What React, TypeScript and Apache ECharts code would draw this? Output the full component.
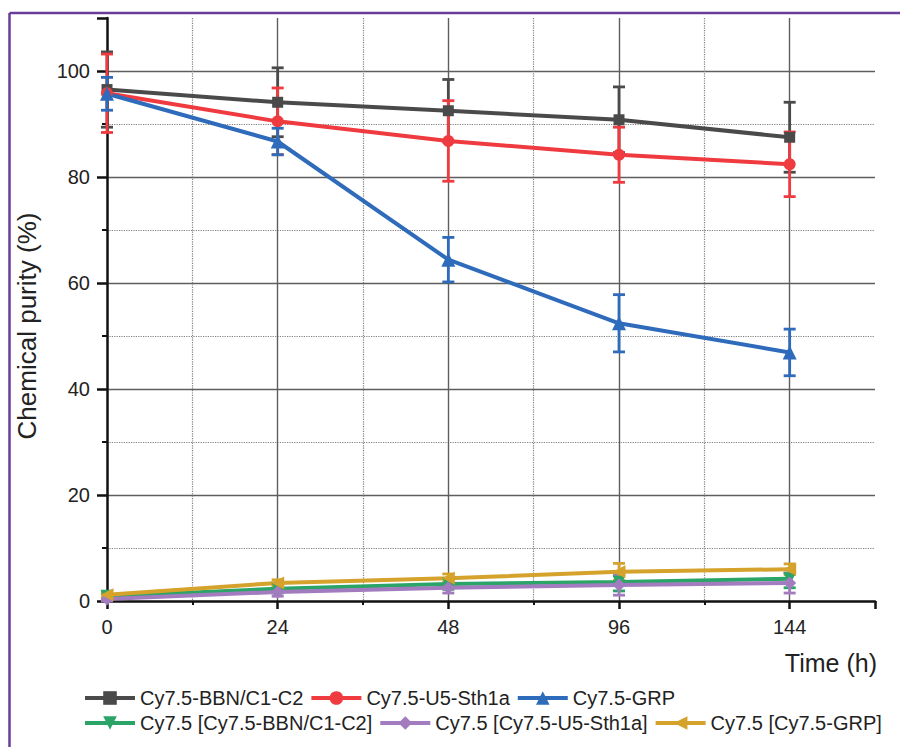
import React, { useEffect, useRef } from "react";
import * as echarts from "echarts";

const timeLabels = ["0", "24", "48", "96", "144"];
const xIndex = [0, 1, 2, 3, 4];

const seriesNames = [
  "Cy7.5-BBN/C1-C2",
  "Cy7.5-U5-Sth1a",
  "Cy7.5-GRP",
  "Cy7.5 [Cy7.5-BBN/C1-C2]",
  "Cy7.5 [Cy7.5-U5-Sth1a]",
  "Cy7.5 [Cy7.5-GRP]",
];

const bbnMean = [96.5, 94.1, 92.5, 90.8, 87.5];
const bbnErr = [7.1, 6.5, 5.9, 6.2, 6.6];
const sthMean = [95.8, 90.5, 86.8, 84.2, 82.4];
const sthErr = [7.4, 6.3, 7.6, 5.2, 6.1];
const grpMean = [95.7, 86.7, 64.4, 52.4, 46.9];
const grpErr = [3.1, 2.5, 4.2, 5.4, 4.4];
const freeBbnMean = [0.9, 2.3, 3.2, 3.6, 4.2];
const freeBbnErr = [0.5, 0.8, 1.0, 1.7, 1.7];
const freeSthMean = [0.4, 1.7, 2.5, 3.0, 3.4];
const freeSthErr = [0.4, 0.8, 1.0, 1.9, 1.9];
const freeGrpMean = [1.2, 3.4, 4.3, 5.5, 6.0];
const freeGrpErr = [0.5, 0.6, 0.8, 1.6, 1.0];

const means = [bbnMean, sthMean, grpMean, freeBbnMean, freeSthMean, freeGrpMean];
const errs = [bbnErr, sthErr, grpErr, freeBbnErr, freeSthErr, freeGrpErr];
const colors = ["#4a4a4a", "#ef3b40", "#2e6bbb", "#2aa567", "#a37cc0", "#d5a22b"];
const symbols = ["rect", "circle", "triangle", "triangle", "diamond", "triangle"];
const symbolRotates = [0, 0, 0, 180, 0, 90];
const symbolSizes = [11, 12, 14, 13, 13, 13];

const FONT = "'Liberation Sans', Arial, Helvetica, sans-serif";

export default function App() {
  const ref = useRef<HTMLDivElement>(null);

  useEffect(() => {
    document.body.style.margin = "0";
    if (!ref.current) return;
    const chart = echarts.init(ref.current, undefined, { renderer: "svg" });

    const series: any[] = [];
    seriesNames.forEach((name, s) => {
      series.push({
        name,
        type: "line",
        data: xIndex.map((x, i) => [x, means[s][i]]),
        symbol: symbols[s],
        symbolRotate: symbolRotates[s],
        symbolSize: symbolSizes[s],
        showAllSymbol: true,
        lineStyle: { color: colors[s], width: 4 },
        itemStyle: { color: colors[s] },
        z: 3,
      });
      series.push({
        name: "err-" + name,
        type: "custom",
        data: xIndex.map((x, i) => [x, means[s][i] - errs[s][i], means[s][i] + errs[s][i]]),
        encode: { x: 0, y: [1, 2] },
        z: 3,
        renderItem: (params: any, api: any) => {
          const x = api.value(0);
          const lo = api.value(1);
          const hi = api.value(2);
          const p1 = api.coord([x, hi]);
          const p2 = api.coord([x, lo]);
          const w = 6;
          const style = { stroke: colors[s], lineWidth: 2.8 };
          return {
            type: "group",
            children: [
              { type: "line", shape: { x1: p1[0], y1: p1[1], x2: p2[0], y2: p2[1] }, style },
              { type: "line", shape: { x1: p1[0] - w, y1: p1[1], x2: p1[0] + w, y2: p1[1] }, style },
              { type: "line", shape: { x1: p2[0] - w, y1: p2[1], x2: p2[0] + w, y2: p2[1] }, style },
            ],
          };
        },
      });
    });

    const legendCommon = {
      left: 83,
      width: 1200,
      padding: 0,
      itemWidth: 50,
      itemHeight: 17,
      itemGap: 6,
      lineStyle: { width: 4 },
      textStyle: { fontSize: 20, color: "#222", fontFamily: FONT },
      selectedMode: false,
    };

    chart.setOption({
      animation: false,
      textStyle: { fontFamily: FONT },
      grid: { left: 107, top: 18, right: 25, bottom: 146, containLabel: false },
      legend: [
        { ...legendCommon, top: 688, data: seriesNames.slice(0, 3) },
        { ...legendCommon, top: 713, data: seriesNames.slice(3) },
      ],
      xAxis: {
        type: "value",
        min: 0,
        max: 4.5,
        interval: 1,
        axisLine: { show: true, onZero: false, lineStyle: { color: "#111", width: 2.5 } },
        axisTick: { show: true, length: 8, lineStyle: { color: "#111", width: 2.5 } },
        minorTick: { show: true, splitNumber: 2, length: 4, lineStyle: { color: "#111", width: 2 } },
        splitLine: { show: true, showMinLine: false, showMaxLine: false, lineStyle: { color: "#5e5e5e", width: 1.4 } },
        minorSplitLine: { show: true, lineStyle: { color: "#808080", type: "dotted", width: 1.2 } },
        axisLabel: {
          fontSize: 20,
          color: "#222",
          margin: 16,
          showMaxLabel: true,
          formatter: (v: number) => (Number.isInteger(v) && v >= 0 && v <= 4 ? timeLabels[v] : ""),
        },
      },
      yAxis: {
        type: "value",
        min: 0,
        max: 110,
        interval: 20,
        axisLine: { show: true, onZero: false, lineStyle: { color: "#111", width: 2.5 } },
        axisTick: { show: true, length: 10, lineStyle: { color: "#111", width: 2.5 } },
        minorTick: { show: true, splitNumber: 2, length: 5, lineStyle: { color: "#111", width: 2 } },
        splitLine: { show: true, showMinLine: false, showMaxLine: false, lineStyle: { color: "#5e5e5e", width: 1.4 } },
        minorSplitLine: { show: true, lineStyle: { color: "#808080", type: "dotted", width: 1.2 } },
        axisLabel: {
          fontSize: 20,
          color: "#222",
          margin: 17,
          formatter: (v: number) => (v <= 100 ? String(v) : ""),
        },
      },
      graphic: [
        {
          type: "line",
          shape: { x1: 9.5, y1: 13, x2: 900, y2: 13 },
          style: { stroke: "#6a3d9a", lineWidth: 2.5 },
        },
        {
          type: "line",
          shape: { x1: 9.5, y1: 13, x2: 9.5, y2: 747 },
          style: { stroke: "#6a3d9a", lineWidth: 2.5 },
        },
        {
          type: "text",
          x: 27,
          y: 326,
          rotation: Math.PI / 2,
          style: {
            text: "Chemical purity (%)",
            fontSize: 26,
            fontFamily: FONT,
            fill: "#222",
            align: "center",
            verticalAlign: "middle",
          },
        },
        {
          type: "text",
          x: 877,
          y: 650,
          style: {
            text: "Time (h)",
            fontSize: 25,
            fontFamily: FONT,
            fill: "#222",
            align: "right",
            verticalAlign: "top",
          },
        },
      ],
      series,
    });

    return () => chart.dispose();
  }, []);

  return <div ref={ref} style={{ width: 900, height: 747 }} />;
}
